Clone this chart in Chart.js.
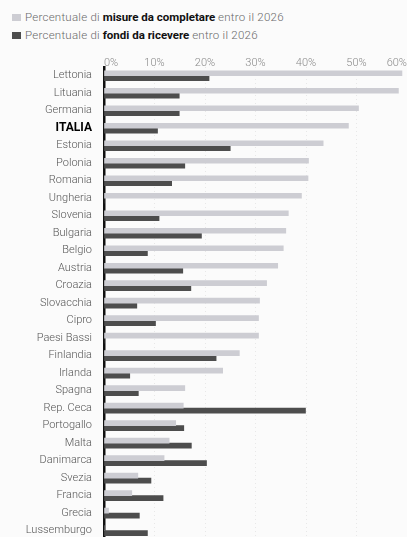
<!DOCTYPE html>
<html lang="it">
<head>
  <meta charset="UTF-8" />
  <title>PNRR: misure e fondi entro il 2026</title>
  <script src="https://cdn.jsdelivr.net/npm/chart.js"></script>
  <style>
    html, body {
      margin: 0;
      padding: 0;
      width: 407px;
      height: 537px;
      overflow: hidden;
      background: #fbfbfb;
      font-family: Roboto, "Noto Sans", sans-serif;
    }
    #legend {
      position: absolute;
      left: 12px;
      top: 8px;
      font-size: 11.5px;
      font-weight: 300;
      color: #6a6a6a;
      line-height: 18px;
    }
    #legend .lt {
      letter-spacing: 0.25px;
    }
    #legend .sw {
      display: inline-block;
      width: 9px;
      height: 7px;
      margin-right: 4px;
      vertical-align: 0px;
    }
    #legend b {
      color: #111;
      font-weight: 700;
    }
    #chart-box {
      position: absolute;
      left: 0;
      top: 45px;
      width: 407px;
      height: 505px;
    }
  </style>
</head>
<body>
  <div id="legend">
    <div><span class="sw" style="background:#cdcdd3"></span><span class="lt">Percentuale di</span> <b>misure da completare</b> <span class="lt">entro il 2026</span></div>
    <div><span class="sw" style="background:#4d4d4d"></span><span class="lt">Percentuale di</span> <b>fondi da ricevere</b> <span class="lt">entro il 2026</span></div>
  </div>
  <div id="chart-box">
    <canvas id="chart"></canvas>
  </div>

  <script>
    const countries = ['Lettonia', 'Lituania', 'Germania', 'ITALIA', 'Estonia', 'Polonia', 'Romania',
      'Ungheria', 'Slovenia', 'Bulgaria', 'Belgio', 'Austria', 'Croazia', 'Slovacchia', 'Cipro',
      'Paesi Bassi', 'Finlandia', 'Irlanda', 'Spagna', 'Rep. Ceca', 'Portogallo', 'Malta',
      'Danimarca', 'Svezia', 'Francia', 'Grecia', 'Lussemburgo'];

    // % of measures still to complete by 2026
    const misure = [59.0, 58.3, 50.4, 48.4, 43.4, 40.5, 40.4, 39.1, 36.5, 36.0, 35.5, 34.4, 32.2,
      30.8, 30.6, 30.6, 26.8, 23.5, 16.0, 15.7, 14.2, 12.9, 11.9, 6.7, 5.5, 0.9, 0];

    // % of funds still to receive by 2026
    const fondi = [20.8, 14.9, 14.9, 10.6, 25.0, 16.0, 13.4, 0, 10.9, 19.3, 8.6, 15.6, 17.2,
      6.5, 10.2, 0, 22.2, 5.1, 6.8, 39.9, 15.8, 17.3, 20.3, 9.3, 11.7, 7.0, 8.6];

    const xTicks = [0, 10, 20, 30, 40, 50, 60];

    const ctx = document.getElementById('chart').getContext('2d');
    new Chart(ctx, {
      type: 'bar',
      data: {
        labels: countries,
        datasets: [
          {
            label: 'Percentuale di misure da completare entro il 2026',
            data: misure,
            backgroundColor: '#cdcdd3',
            barThickness: 5
          },
          {
            label: 'Percentuale di fondi da ricevere entro il 2026',
            data: fondi,
            backgroundColor: '#4d4d4d',
            barThickness: 5
          }
        ]
      },
      options: {
        indexAxis: 'y',
        responsive: true,
        maintainAspectRatio: false,
        animation: false,
        layout: { padding: 0 },
        plugins: {
          legend: { display: false },
          tooltip: { enabled: false }
        },
        scales: {
          x: {
            position: 'top',
            min: 0,
            max: 60,
            afterBuildTicks: s => { s.ticks = xTicks.map(v => ({ value: v })); },
            afterFit: s => { s.height = 22; },
            border: { display: false, dash: [1, 3] },
            grid: {
              color: '#e8e8e8',
              drawTicks: true,
              tickLength: 2,
              tickColor: 'rgba(0,0,0,0)'
            },
            ticks: {
              align: 'inner',
              padding: -5,
              color: '#8a8a8a',
              font: { family: 'Roboto', size: 11, weight: 300 },
              callback: v => v + '%'
            }
          },
          y: {
            afterFit: s => { s.width = 104; },
            border: { display: true, color: '#111', width: 2.5 },
            grid: { display: false },
            ticks: {
              padding: 4,
              autoSkip: false,
              color: c => c.tick && c.tick.label === 'ITALIA' ? '#000' : '#555',
              font: c => (c.tick && c.tick.label === 'ITALIA')
                ? { family: 'Roboto', size: 12, weight: 'bold' }
                : { family: 'Roboto', size: 11, weight: 300 }
            }
          }
        }
      }
    });
  </script>
</body>
</html>
